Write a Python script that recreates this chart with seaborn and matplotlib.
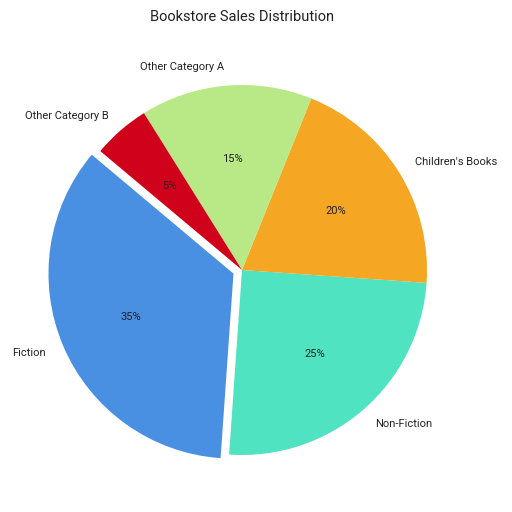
import matplotlib
matplotlib.use("Agg")
import matplotlib.pyplot as plt
import seaborn as sns

# Data
categories = ["Fiction", "Non-Fiction", "Children's Books", "Other Category A", "Other Category B"]
shares = [35, 25, 20, 15, 5]
colors = ["#4A90E2", "#50E3C2", "#F5A623", "#B8E986", "#D0021B"]
explode = [0.05, 0, 0, 0, 0]

sns.set_theme(style="white")
plt.rcParams["font.family"] = ["Roboto", "DejaVu Sans"]

fig = plt.figure(figsize=(5.12, 5.12), dpi=100)
# square axes placed so the pie centre and radius match the reference
ax = fig.add_axes([0.021, 0.021, 0.9033, 0.9033])
ax.pie(
    shares,
    labels=categories,
    colors=colors,
    explode=explode,
    autopct="%1.0f%%",
    startangle=140,
    wedgeprops={"linewidth": 0},
    textprops={"fontsize": 8, "color": "#222222"},
)
ax.set_xlim(-1.25, 1.25)
ax.set_ylim(-1.25, 1.25)
ax.set_aspect("equal")
ax.set_title("Bookstore Sales Distribution", fontsize=10.5, color="#222222", pad=13)

plt.savefig("out.png", dpi=100)
plt.close()
